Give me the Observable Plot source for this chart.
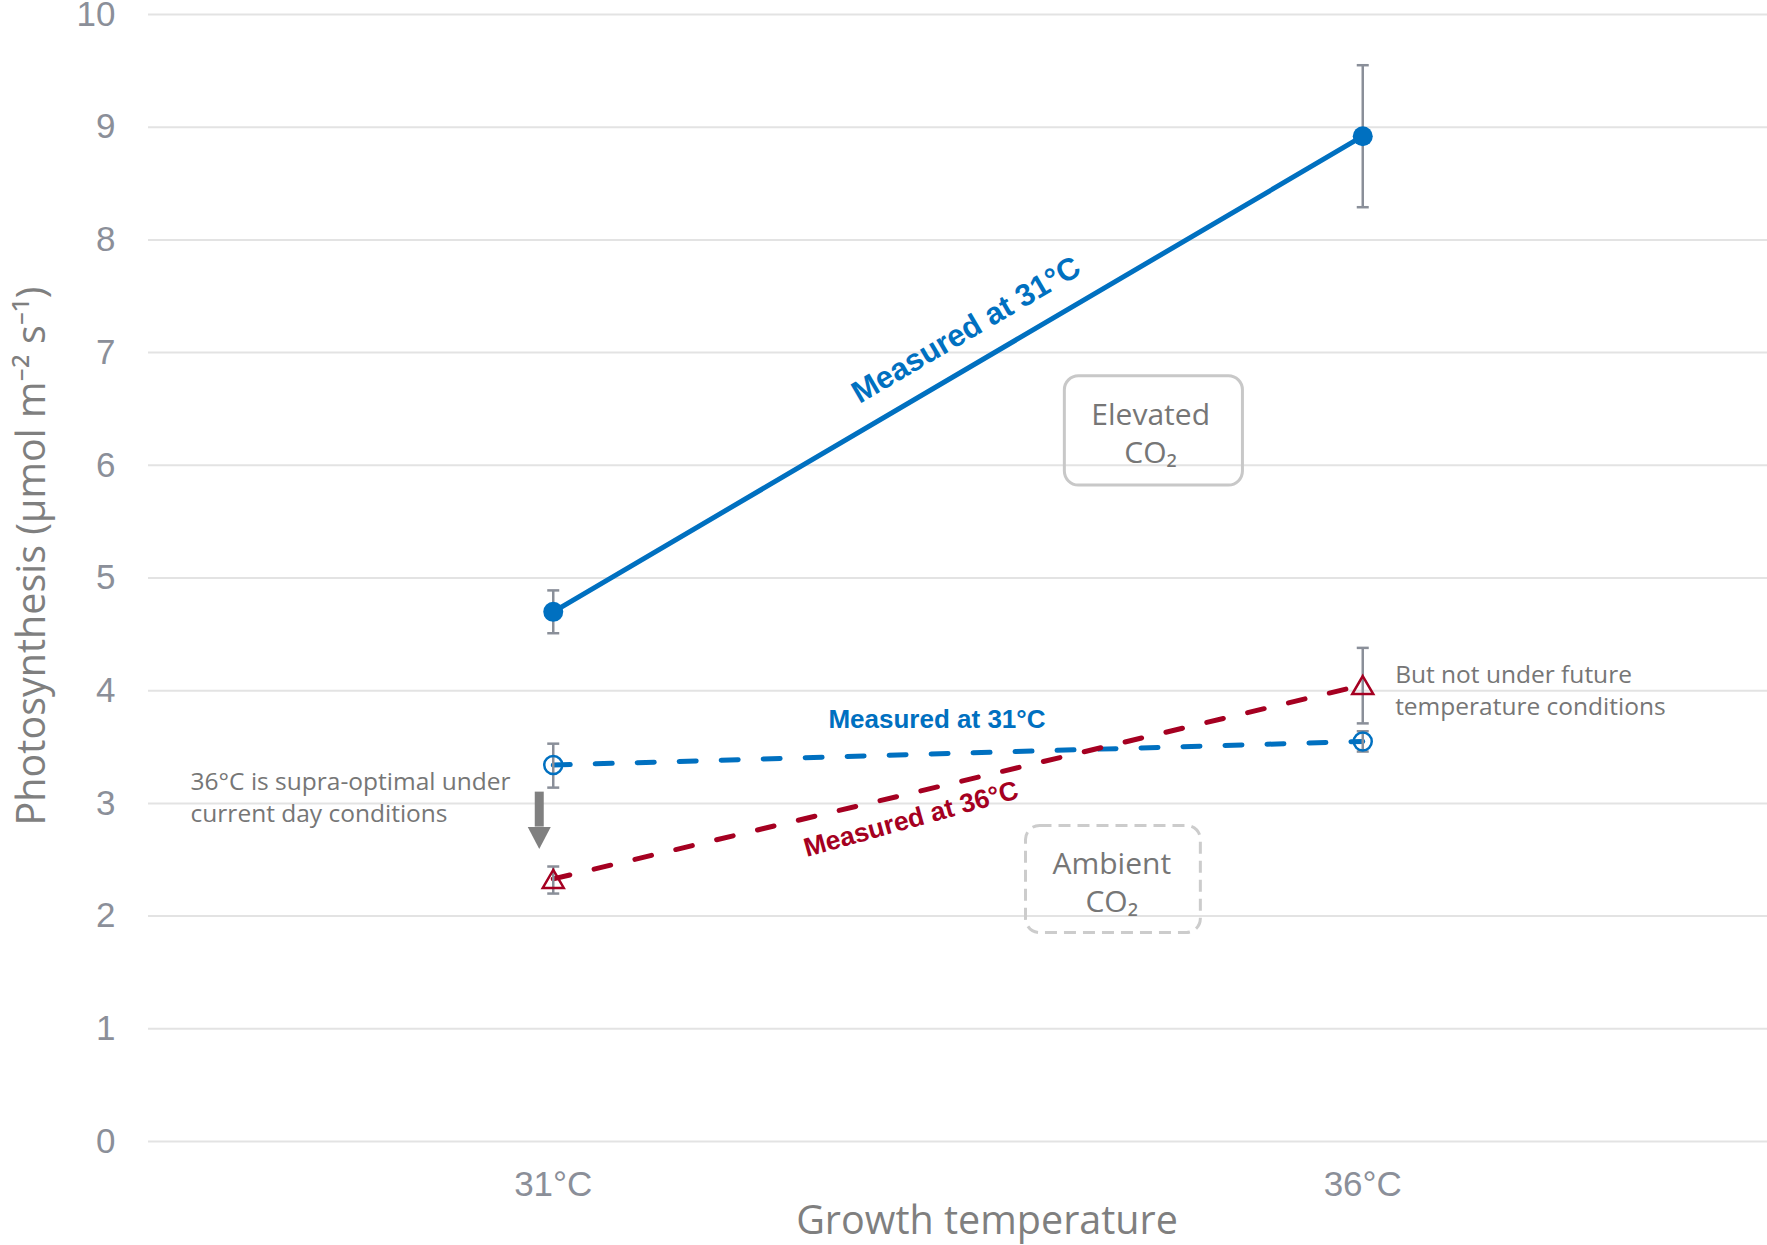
<!DOCTYPE html>
<html>
<head>
<meta charset="utf-8">
<script src="https://cdn.jsdelivr.net/npm/d3@7"></script>
<script src="https://cdn.jsdelivr.net/npm/@observablehq/plot@0.6"></script>
<style>
  html, body { margin: 0; padding: 0; background: #ffffff; }
  #chart svg { display: block; }
</style>
</head>
<body>
<div id="chart"></div>
<script>
// ---------- data ----------
const temps = [31, 36];                    // growth temperature (°C)
const yTicks = [0, 1, 2, 3, 4, 5, 6, 7, 8, 9, 10];

const seriesNames = ["elev31", "amb31", "amb36"];
// Elevated CO2, measured at 31°C
const elev31 = [4.70, 8.92];
const elev31Lo = [4.51, 8.29];
const elev31Hi = [4.89, 9.55];
// Ambient CO2, measured at 31°C
const amb31 = [3.34, 3.55];
const amb31Lo = [3.14, 3.46];
const amb31Hi = [3.53, 3.64];
// Ambient CO2, measured at 36°C
const amb36 = [2.33, 4.05];
const amb36Lo = [2.20, 3.71];
const amb36Hi = [2.44, 4.38];

// annotation texts
const boxLabels = ["Elevated\nCO₂", "Ambient\nCO₂"];
const boxX1 = [34.16, 33.92], boxX2 = [35.26, 35.00];
const boxY1 = [5.82, 1.85], boxY2 = [6.79, 2.80];
const boxTextX = [34.69, 34.45], boxTextY = [6.30, 2.31];

const noteTexts = ["36°C is supra-optimal under\ncurrent day conditions", "But not under future\ntemperature conditions"];
const noteX = [28.76, 36.2], noteY = [3.07, 4.02];

const seriesLabels = ["Measured at 31°C", "Measured at 31°C", "Measured at 36°C"];
const seriesLabelX = [33.55, 33.37, 33.21];
const seriesLabelY = [7.20, 3.74, 2.86];

const arrowX = [31], arrowFrom = [3.10], arrowTo = [2.79];

// ---------- build tables ----------
const values = {elev31, amb31, amb36};
const los = {elev31: elev31Lo, amb31: amb31Lo, amb36: amb36Lo};
const his = {elev31: elev31Hi, amb31: amb31Hi, amb36: amb36Hi};
const rows = seriesNames.flatMap(s => temps.map((t, i) => ({series: s, temp: t, value: values[s][i], lo: los[s][i], hi: his[s][i]})));
const of = s => rows.filter(d => d.series === s);

const boxes = boxLabels.map((label, i) => ({label, x1: boxX1[i], x2: boxX2[i], y1: boxY1[i], y2: boxY2[i], tx: boxTextX[i], ty: boxTextY[i]}));
const notes = noteTexts.map((label, i) => ({label, x: noteX[i], y: noteY[i]}));
const sLabels = seriesLabels.map((label, i) => ({label, x: seriesLabelX[i], y: seriesLabelY[i]}));
const arrows = arrowX.map((x, i) => ({x, y1: arrowFrom[i], y2: arrowTo[i]}));

// ---------- styles ----------
const BLUE = "#0070c0", RED = "#a50021", ERR = "#8a8f99", GRID = "#e3e3e3";
const TICK = "#8b8f99", AXT = "#7f7f7f", NOTE = "#767676";
const SANS = "'Open Sans', 'Noto Sans', sans-serif";
const ARIAL = "'Liberation Sans', Arial, sans-serif";

const capSymbol = {draw(ctx) { ctx.moveTo(-6, 0); ctx.lineTo(6, 0); }};
const triUp = {draw(ctx) { ctx.moveTo(0, -9); ctx.lineTo(10.5, 9); ctx.lineTo(-10.5, 9); ctx.closePath(); }};
const triDown = {draw(ctx) { ctx.moveTo(-11.5, 0); ctx.lineTo(11.5, 0); ctx.lineTo(0, 22); ctx.closePath(); }};

const chart = Plot.plot({
  width: 1767,
  height: 1245,
  marginLeft: 148,
  marginRight: 0,
  marginTop: 14,
  marginBottom: 104,
  style: {background: "#ffffff", fontFamily: SANS},
  x: {type: "linear", domain: [28.5, 38.5]},
  y: {domain: [0, 10]},
  marks: [
    Plot.gridY(yTicks, {stroke: GRID, strokeOpacity: 1, strokeWidth: 2}),
    Plot.axisY(yTicks, {tickSize: 0, tickPadding: 33, fontSize: 35, fontFamily: ARIAL, color: TICK, label: null, tickFormat: d => String(d)}),
    Plot.axisX(temps, {tickSize: 0, tickPadding: 30, fontSize: 35, fontFamily: ARIAL, color: TICK, label: null, tickFormat: d => `${d}°C`}),
    Plot.text(["Growth temperature"], {frameAnchor: "bottom", lineAnchor: "middle", dx: 29, dy: 80, fontSize: 39.5, fill: AXT, fontFamily: SANS}),
    Plot.text(["Photosynthesis (µmol m⁻² s⁻¹)"], {frameAnchor: "left", textAnchor: "middle", lineAnchor: "middle", rotate: -90, dx: -116, dy: -22, fontSize: 39.5, fill: AXT, fontFamily: SANS}),

    // boxes
    Plot.rect(boxes.slice(0, 1), {x1: "x1", x2: "x2", y1: "y1", y2: "y2", rx: 14, fill: "none", stroke: "#c8c8c8", strokeWidth: 3}),
    Plot.rect(boxes.slice(1), {x1: "x1", x2: "x2", y1: "y1", y2: "y2", rx: 14, fill: "none", stroke: "#cccccc", strokeWidth: 3, strokeDasharray: "12,7"}),
    Plot.text(boxes, {x: "tx", y: "ty", text: "label", fontSize: 30, lineHeight: 1.27, fill: NOTE, fontFamily: SANS}),

    // lines
    Plot.line(of("elev31"), {x: "temp", y: "value", stroke: BLUE, strokeWidth: 5}),
    Plot.line(of("amb31"), {x: "temp", y: "value", stroke: BLUE, strokeWidth: 5, strokeDasharray: "17,25", strokeLinecap: "round"}),
    Plot.line(of("amb36"), {x: "temp", y: "value", stroke: RED, strokeWidth: 5, strokeDasharray: "17,25", strokeLinecap: "round"}),

    // error bars
    Plot.ruleX(rows, {x: "temp", y1: "lo", y2: "hi", stroke: ERR, strokeWidth: 2.5}),
    Plot.dot(rows, {x: "temp", y: "lo", symbol: capSymbol, stroke: ERR, strokeWidth: 2.5, fill: "none"}),
    Plot.dot(rows, {x: "temp", y: "hi", symbol: capSymbol, stroke: ERR, strokeWidth: 2.5, fill: "none"}),

    // markers
    Plot.dot(of("elev31"), {x: "temp", y: "value", r: 10, fill: BLUE, stroke: "none"}),
    Plot.dot(of("amb31"), {x: "temp", y: "value", r: 9, fill: "none", stroke: BLUE, strokeWidth: 2.5}),
    Plot.dot(of("amb36"), {x: "temp", y: "value", symbol: triUp, fill: "none", stroke: RED, strokeWidth: 2.5}),

    // arrow
    Plot.ruleX(arrows, {x: "x", y1: "y1", y2: "y2", dx: -14, stroke: "#808080", strokeWidth: 9}),
    Plot.dot(arrows, {x: "x", y: "y2", dx: -14, symbol: triDown, fill: "#808080", stroke: "none"}),

    // series labels
    Plot.text(sLabels.slice(0, 1), {x: "x", y: "y", text: "label", rotate: -30.4, fill: BLUE, fontWeight: "bold", fontSize: 31, fontFamily: ARIAL}),
    Plot.text(sLabels.slice(1, 2), {x: "x", y: "y", text: "label", fill: BLUE, fontWeight: "bold", fontSize: 26, fontFamily: ARIAL}),
    Plot.text(sLabels.slice(2, 3), {x: "x", y: "y", text: "label", rotate: -15.5, fill: RED, fontWeight: "bold", fontSize: 26.5, fontFamily: ARIAL}),

    // notes
    Plot.text(notes, {x: "x", y: "y", text: "label", textAnchor: "start", lineHeight: 1.3, fontSize: 24.5, fill: NOTE, fontFamily: SANS})
  ]
});
document.getElementById("chart").appendChild(chart);
</script>
</body>
</html>
